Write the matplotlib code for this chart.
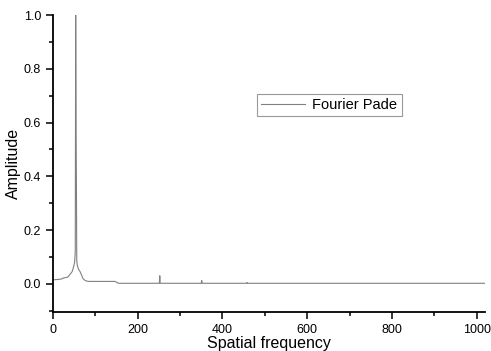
import numpy as np
import matplotlib.pyplot as plt
from matplotlib.ticker import MultipleLocator

plt.rcParams['font.family'] = ['Liberation Sans', 'DejaVu Sans']

# spectrum read from the Pade-Fourier output
freq = [0, 10, 20, 25, 35, 40, 45, 48, 51, 52.5, 53.5, 54.5, 55.2, 56, 57, 60, 64, 68, 71, 76, 83,
        100, 130, 146, 150, 153, 156, 200, 251, 252, 253, 300, 350, 351, 352, 400, 457, 458, 459,
        600, 800, 1020]
amp = [0.015, 0.016, 0.018, 0.022, 0.025, 0.035, 0.045, 0.06, 0.08, 0.12, 1.0, 0.55, 0.38, 0.09,
       0.07, 0.055, 0.045, 0.03, 0.019, 0.012, 0.009, 0.009, 0.009, 0.009, 0.006, 0.003, 0.002,
       0.002, 0.002, 0.03, 0.002, 0.002, 0.002, 0.012, 0.002, 0.002, 0.002, 0.005, 0.002,
       0.002, 0.002, 0.002]

fig = plt.figure(figsize=(4.91, 3.51), dpi=100)
ax = fig.add_axes([0.108, 0.111, 0.88, 0.846])

ax.plot(freq, amp, color='#808080', lw=0.8, label='Fourier Pade')

ax.set_xlim(0, 1020)
ax.set_ylim(-0.105, 1.0)
ax.xaxis.set_major_locator(MultipleLocator(200))
ax.xaxis.set_minor_locator(MultipleLocator(100))
ax.yaxis.set_major_locator(MultipleLocator(0.2))
ax.yaxis.set_minor_locator(MultipleLocator(0.1))
ax.set_yticks(np.arange(0, 1.01, 0.2))
ax.set_yticklabels([f'{v:.1f}' for v in np.arange(0, 1.01, 0.2)])

for s in ['top', 'right']:
    ax.spines[s].set_visible(False)
for s in ['left', 'bottom']:
    ax.spines[s].set_linewidth(1.3)
ax.tick_params(which='major', direction='out', length=5, width=1.1, labelsize=9)
ax.tick_params(which='minor', direction='out', length=3, width=1.1)

ax.set_xlabel('Spatial frequency', fontsize=11.5, labelpad=0)
ax.set_ylabel('Amplitude', fontsize=11.5, labelpad=2)

leg = ax.legend(loc='upper left', bbox_to_anchor=(0.455, 0.76), fontsize=10.5, fancybox=False,
                handlelength=3, borderpad=0.3, handletextpad=0.5)
leg.get_frame().set_edgecolor('#808080')
leg.get_frame().set_linewidth(0.8)

fig.savefig('out.png', dpi=100)
